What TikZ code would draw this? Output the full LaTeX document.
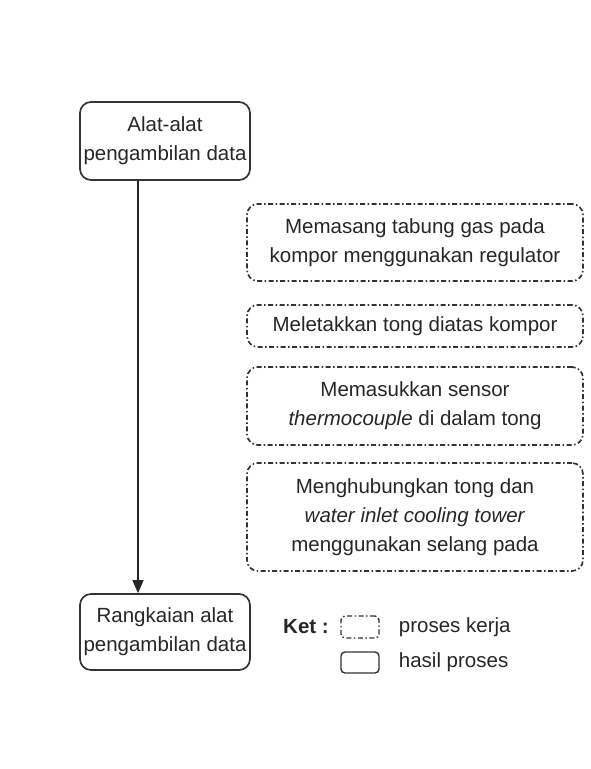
\documentclass[tikz,border=0pt]{standalone}
\usepackage{fontspec}
\setmainfont{Liberation Sans}
\usetikzlibrary{arrows.meta,positioning}

\begin{document}
\begin{tikzpicture}[
  x=1pt, y=-1pt,
  font=\fontsize{20.5}{29}\selectfont,
  text=black!85,
  box/.style={
    draw=black!80,
    line width=1.7pt,
    rounded corners=11pt,
    align=center,
    inner sep=0pt,
  },
  result/.style={box},
  work/.style={box, dash pattern=on 5pt off 2.5pt on 1.5pt off 2.5pt},
  flow/.style={-{Triangle[length=13pt, width=11pt]}, line width=1.4pt, draw=black!85},
  legend/.style={anchor=west, inner sep=0pt},
]
\useasboundingbox (0,0) rectangle (590,769);

% hasil proses
\node[result, minimum width=170pt, minimum height=78pt] (tools) at (165,141) {Alat-alat\\pengambilan data};
\node[result, minimum width=170pt, minimum height=76pt] (setup) at (165,632) {Rangkaian alat\\pengambilan data};

% proses kerja
\node[work, minimum width=336pt, minimum height=77pt] (gas) at (415,242.5) {Memasang tabung gas pada\\kompor menggunakan regulator};
\node[work, minimum width=336pt, minimum height=42pt] (drum) at (415,326) {Meletakkan tong diatas kompor};
\node[work, minimum width=336pt, minimum height=78pt] (sensor) at (415,406) {Memasukkan sensor\\\textit{thermocouple} di dalam tong};
\node[work, minimum width=336pt, minimum height=108pt] (hose) at (415,517) {Menghubungkan tong dan\\\textit{water inlet cooling tower}\\menggunakan selang pada};

\draw[flow] ([xshift=-27pt]tools.south) -- ([xshift=-27pt]setup.north);

% keterangan
\node[legend] (ket) at (283,627) {\textbf{Ket :}};
\node[work, rounded corners=4pt, line width=1.4pt, minimum width=38pt, minimum height=22pt] (key_work) at (360,627) {};
\node[result, rounded corners=4pt, line width=1.4pt, minimum width=38pt, minimum height=21pt] (key_result) at (360,662.5) {};
\node[legend, right=19pt of key_work] (key_work_text) {proses kerja};
\node[legend, right=19pt of key_result] (key_result_text) {hasil proses};

\end{tikzpicture}
\end{document}
